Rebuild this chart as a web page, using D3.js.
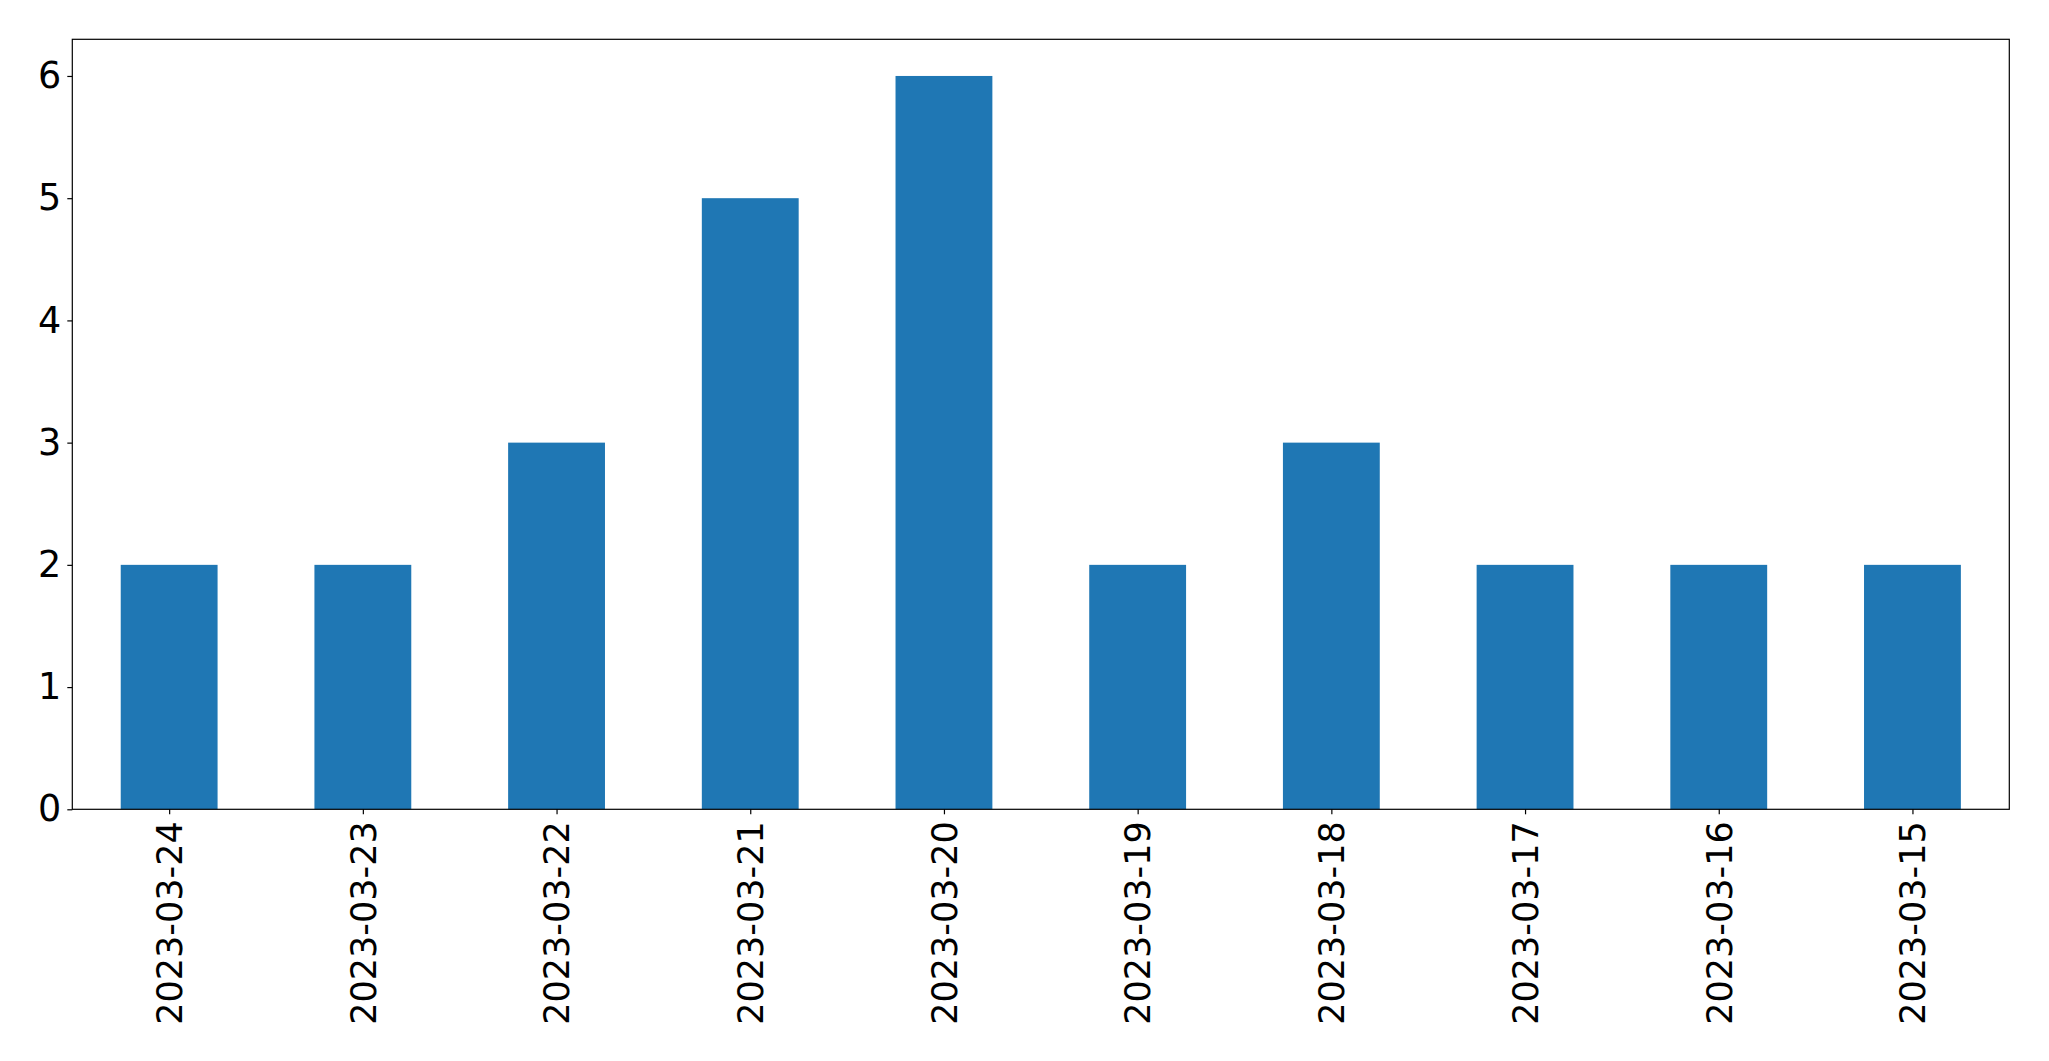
<!DOCTYPE html>
<html><head><meta charset="utf-8">
<script src="https://cdn.jsdelivr.net/npm/d3@7"></script>
<style>body{margin:0;background:#fff}svg{display:block}text{font-family:"DejaVu Sans",sans-serif}</style>
</head><body>
<script>
const categories = ["2023-03-24","2023-03-23","2023-03-22","2023-03-21","2023-03-20","2023-03-19","2023-03-18","2023-03-17","2023-03-16","2023-03-15"];
const values = [2,2,3,5,6,2,3,2,2,2];
const yTicks = [0,1,2,3,4,5,6];

(function(){
const W = 2049, H = 1061;
const mLeft = 72.3, mRight = 2009.3, mTop = 39.3, mBottom = 809.3;
const fsX = 35, fsY = 36.5;
const svg = d3.select("body").append("svg").attr("width", W).attr("height", H);

const x = d3.scaleLinear().domain([-0.5, categories.length - 0.5]).range([mLeft, mRight]);
const y = d3.scaleLinear().domain([0, 6.3]).range([mBottom, mTop]);

svg.append("g").selectAll("rect").data(values).join("rect")
  .attr("x", (d,i) => x(i - 0.25)).attr("width", (d,i) => x(i + 0.25) - x(i - 0.25))
  .attr("y", d => y(d)).attr("height", d => y(0) - y(d))
  .attr("fill", "#1f77b4");

const yAxis = svg.append("g").attr("transform", `translate(${mLeft},0)`)
  .call(d3.axisLeft(y).tickValues(yTicks).tickFormat(d3.format("d")).tickSize(5).tickPadding(6));
yAxis.select(".domain").remove();
yAxis.selectAll("text").attr("font-size", fsY).attr("fill", "#000").attr("font-family", "DejaVu Sans");
yAxis.selectAll("line").attr("stroke", "#000").attr("stroke-width", 1.2);

const xAxis = svg.append("g").attr("transform", `translate(0,${mBottom})`)
  .call(d3.axisBottom(x).tickValues(d3.range(categories.length)).tickFormat(i => categories[i]).tickSize(5));
xAxis.select(".domain").remove();
xAxis.selectAll("line").attr("stroke", "#000").attr("stroke-width", 1.2);
xAxis.selectAll("text")
  .attr("font-size", fsX).attr("fill", "#000").attr("font-family", "DejaVu Sans")
  .attr("text-anchor", "end").attr("transform", "rotate(-90)")
  .attr("x", -12).attr("y", 0).attr("dy", "0.35em");

svg.append("rect").attr("x", mLeft).attr("y", mTop).attr("width", mRight - mLeft).attr("height", mBottom - mTop)
  .attr("fill", "none").attr("stroke", "#000").attr("stroke-width", 1.2);
})();
</script>
</body></html>
